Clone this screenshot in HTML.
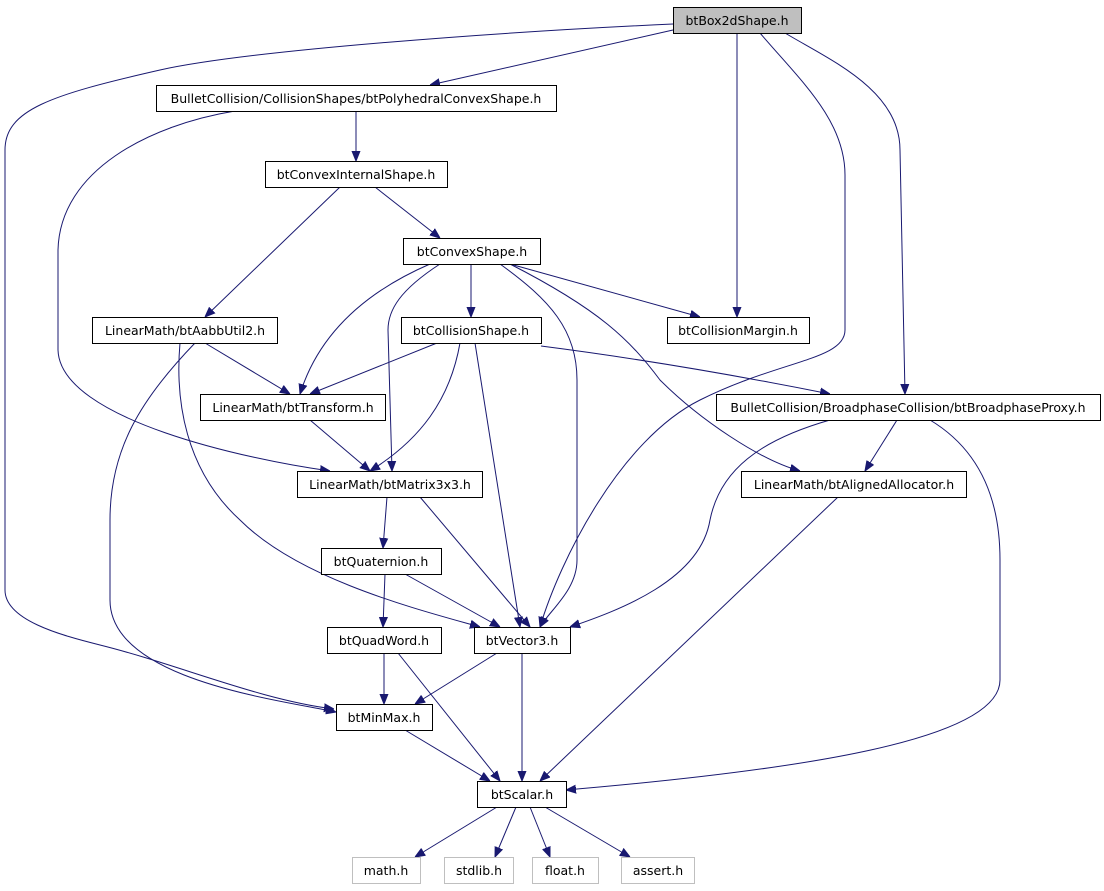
<!DOCTYPE html>
<html><head><meta charset="utf-8"><style>
html,body{margin:0;padding:0;background:#fff;}
svg{display:block;}
text{font-family:"DejaVu Sans","Liberation Sans",sans-serif;font-size:12.5px;fill:#000;}
.n{fill:#fff;stroke:#000;stroke-width:1;}
.g{fill:#fff;stroke:#bfbfbf;stroke-width:1;}
.e{fill:none;stroke:#191970;stroke-width:1;marker-end:url(#a);}
</style></head><body>
<svg width="1104" height="891" viewBox="0 0 1104 891" xmlns="http://www.w3.org/2000/svg">
<defs><marker id="a" viewBox="0 0 10 10" refX="10" refY="5" markerWidth="10" markerHeight="10" markerUnits="userSpaceOnUse" orient="auto"><path d="M0,1 L10,5 L0,9 z" fill="#191970" stroke="#191970"/></marker></defs>
<g>
<path class="e" d="M673,30 L430,85"/>
<path class="e" d="M673,24 C500,32 250,50 160,70 C50,95 5,110 5,150 L5,590 C5,620 60,635 100,645 C180,665 260,700 334,709"/>
<path class="e" d="M737,33 L737,317"/>
<path class="e" d="M760,33 C800,80 845,120 845,175 L845,330 C845,360 780,360 700,400 C620,440 560,560 540,627"/>
<path class="e" d="M785,33 C830,60 900,90 900,150 L905,394"/>
<path class="e" d="M356,111 L356,161"/>
<path class="e" d="M235,111 C150,125 60,170 58,250 L58,350 C60,420 250,460 330,471"/>
<path class="e" d="M375,187 L440,238"/>
<path class="e" d="M340,187 L205,317"/>
<path class="e" d="M510,264 L700,317"/>
<path class="e" d="M471,264 L471,317"/>
<path class="e" d="M430,264 C370,290 320,330 300,394"/>
<path class="e" d="M440,264 C400,290 388,310 388,330 L392,471"/>
<path class="e" d="M500,264 C550,300 577,330 577,380 L577,560 C577,590 550,610 540,627"/>
<path class="e" d="M510,264 C600,310 630,340 660,380 C700,420 760,460 800,471"/>
<path class="e" d="M205,343 L290,394"/>
<path class="e" d="M180,343 C175,400 185,470 240,520 C300,580 420,610 480,627"/>
<path class="e" d="M195,343 C140,400 110,450 110,520 L110,600 C110,680 280,700 336,712"/>
<path class="e" d="M437,343 L310,394"/>
<path class="e" d="M460,343 C450,400 420,440 370,471"/>
<path class="e" d="M475,343 L520,627"/>
<path class="e" d="M541,346 C650,360 760,380 830,394"/>
<path class="e" d="M310,420 L370,471"/>
<path class="e" d="M897,420 L865,471"/>
<path class="e" d="M830,420 C760,440 720,470 710,520 C700,580 620,610 570,627"/>
<path class="e" d="M930,420 C980,450 1000,500 1000,560 L1000,680 C1000,740 800,770 566,790"/>
<path class="e" d="M387,497 L383,548"/>
<path class="e" d="M420,497 L530,627"/>
<path class="e" d="M838,497 L540,781"/>
<path class="e" d="M385,574 L383,627"/>
<path class="e" d="M405,574 L500,627"/>
<path class="e" d="M384,653 L384,704"/>
<path class="e" d="M398,653 L500,781"/>
<path class="e" d="M497,653 L415,704"/>
<path class="e" d="M522,653 L522,781"/>
<path class="e" d="M405,730 L490,781"/>
<path class="e" d="M497,807 L415,857"/>
<path class="e" d="M516,807 L495,857"/>
<path class="e" d="M530,807 L550,857"/>
<path class="e" d="M545,807 L630,857"/>
</g>
<g>
<rect x="673.5" y="7.5" width="128" height="26" fill="#bfbfbf" stroke="#000"/><text x="737" y="25" text-anchor="middle">btBox2dShape.h</text>
<rect class="n" x="156.5" y="85.5" width="400" height="26"/><text x="356" y="103" text-anchor="middle">BulletCollision/CollisionShapes/btPolyhedralConvexShape.h</text>
<rect class="n" x="265.5" y="161.5" width="182" height="26"/><text x="356" y="179" text-anchor="middle">btConvexInternalShape.h</text>
<rect class="n" x="403.5" y="238.5" width="137" height="26"/><text x="472" y="256" text-anchor="middle">btConvexShape.h</text>
<rect class="n" x="92.5" y="317.5" width="185" height="26"/><text x="185" y="335" text-anchor="middle">LinearMath/btAabbUtil2.h</text>
<rect class="n" x="401.5" y="317.5" width="140" height="26"/><text x="471" y="335" text-anchor="middle">btCollisionShape.h</text>
<rect class="n" x="667.5" y="317.5" width="142" height="26"/><text x="738" y="335" text-anchor="middle">btCollisionMargin.h</text>
<rect class="n" x="200.5" y="394.5" width="185" height="26"/><text x="293" y="412" text-anchor="middle">LinearMath/btTransform.h</text>
<rect class="n" x="716.5" y="394.5" width="384" height="26"/><text x="908" y="412" text-anchor="middle">BulletCollision/BroadphaseCollision/btBroadphaseProxy.h</text>
<rect class="n" x="297.5" y="471.5" width="185" height="26"/><text x="390" y="489" text-anchor="middle">LinearMath/btMatrix3x3.h</text>
<rect class="n" x="741.5" y="471.5" width="225" height="26"/><text x="854" y="489" text-anchor="middle">LinearMath/btAlignedAllocator.h</text>
<rect class="n" x="321.5" y="548.5" width="120" height="26"/><text x="381" y="566" text-anchor="middle">btQuaternion.h</text>
<rect class="n" x="327.5" y="627.5" width="114" height="26"/><text x="384" y="645" text-anchor="middle">btQuadWord.h</text>
<rect class="n" x="474.5" y="627.5" width="96" height="26"/><text x="522" y="645" text-anchor="middle">btVector3.h</text>
<rect class="n" x="336.5" y="704.5" width="96" height="26"/><text x="384" y="722" text-anchor="middle">btMinMax.h</text>
<rect class="n" x="477.5" y="781.5" width="89" height="26"/><text x="522" y="799" text-anchor="middle">btScalar.h</text>
<rect class="g" x="352.5" y="857.5" width="68" height="26"/><text x="386" y="875" text-anchor="middle">math.h</text>
<rect class="g" x="444.5" y="857.5" width="69" height="26"/><text x="479" y="875" text-anchor="middle">stdlib.h</text>
<rect class="g" x="532.5" y="857.5" width="66" height="26"/><text x="565" y="875" text-anchor="middle">float.h</text>
<rect class="g" x="621.5" y="857.5" width="73" height="26"/><text x="658" y="875" text-anchor="middle">assert.h</text>
</g>
</svg>
</body></html>
